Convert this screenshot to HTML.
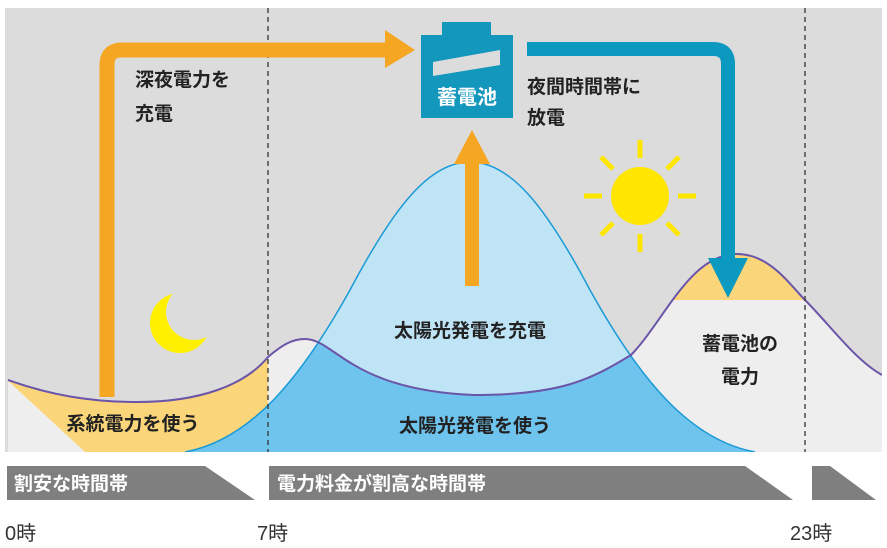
<!DOCTYPE html>
<html><head><meta charset="utf-8"><style>
body{margin:0;background:#fff;}
svg{display:block;font-family:"Liberation Sans","Noto Sans CJK JP",sans-serif;}
</style></head><body>
<svg width="887" height="548" viewBox="0 0 887 548" xmlns="http://www.w3.org/2000/svg">
<defs>
<clipPath id="under"><path d="M8,380 C50,395 90,402 137,402 C200,402 245,385 268,357 C282,345 292,339 305,339 C335,339 350,390 474,395 C560,395 590,380 631,355 C665,320 690,254 737,254 C770,254 790,285 805,300 C830,325 855,360 882,375 L882,452 L8,452 Z"/></clipPath>
<clipPath id="panel"><rect x="5" y="8" width="877" height="444"/></clipPath>
</defs>
<rect x="5" y="8" width="877" height="444" fill="#dcdcdc"/>
<g clip-path="url(#panel)">
<path d="M8,380 C50,395 90,402 137,402 C200,402 245,385 268,357 C282,345 292,339 305,339 C335,339 350,390 474,395 C560,395 590,380 631,355 C665,320 690,254 737,254 C770,254 790,285 805,300 C830,325 855,360 882,375 L882,452 L8,452 Z" fill="#eeeeee"/>
<g clip-path="url(#under)">
<polygon points="5,378 85,452 268,452 268,300 5,300" fill="#fbd57a"/>
<rect x="600" y="230" width="205" height="70" fill="#fbd57a"/>
</g>
<path d="M185,452 C250,440 300,380 350,290 C395,205 430,162 470,162 C510,162 545,205 590,290 C640,380 690,440 755,452 Z" fill="#bfe4f6"/>
<g clip-path="url(#under)">
<path d="M185,452 C250,440 300,380 350,290 C395,205 430,162 470,162 C510,162 545,205 590,290 C640,380 690,440 755,452 Z" fill="#6fc4ee"/>
</g>
<path d="M185,452 C250,440 300,380 350,290 C395,205 430,162 470,162 C510,162 545,205 590,290 C640,380 690,440 755,452" fill="none" stroke="#1a9ad6" stroke-width="1.5"/>
<path d="M8,380 C50,395 90,402 137,402 C200,402 245,385 268,357 C282,345 292,339 305,339 C335,339 350,390 474,395 C560,395 590,380 631,355 C665,320 690,254 737,254 C770,254 790,285 805,300 C830,325 855,360 882,375" fill="none" stroke="#6a55a8" stroke-width="2"/>
</g>
<line x1="268" y1="8" x2="268" y2="452" stroke="#333" stroke-width="1.3" stroke-dasharray="5,4"/>
<line x1="805" y1="8" x2="805" y2="452" stroke="#333" stroke-width="1.3" stroke-dasharray="5,4"/>
<path d="M107,397 L107,65 Q107,50 122,50 L390,50" fill="none" stroke="#f5a623" stroke-width="15"/>
<polygon points="385,30 415,50 385,68" fill="#f5a623"/>
<rect x="465" y="160" width="14" height="126" fill="#f5a623"/>
<polygon points="454,164 472,130 490,164" fill="#f5a623"/>
<rect x="421" y="35" width="92" height="83" fill="#1497bd"/>
<rect x="442" y="22" width="49" height="14" fill="#1497bd"/>
<polygon points="433,62 500,50 500,65 433,76" fill="#dcdcdc"/>
<text x="467" y="104" font-size="20" font-weight="bold" fill="#fff" text-anchor="middle">蓄電池</text>
<path d="M527,49 L713,49 Q728,49 728,64 L728,265" fill="none" stroke="#0b99c0" stroke-width="14"/>
<polygon points="708,258 748,258 728,298" fill="#0b99c0"/>
<g stroke="#ffe600" stroke-width="5">
<circle cx="640" cy="196" r="29" fill="#ffe600" stroke="none"/>
<line x1="640" y1="158" x2="640" y2="140"/><line x1="640" y1="234" x2="640" y2="252"/>
<line x1="602" y1="196" x2="584" y2="196"/><line x1="678" y1="196" x2="696" y2="196"/>
<line x1="613" y1="169" x2="601" y2="157"/><line x1="667" y1="169" x2="679" y2="157"/>
<line x1="613" y1="223" x2="601" y2="235"/><line x1="667" y1="223" x2="679" y2="235"/>
</g>
<circle cx="180" cy="323" r="30" fill="#fff000"/>
<circle cx="194" cy="312" r="28" fill="#dcdcdc"/>
<g font-size="19" font-weight="bold" fill="#222">
<text x="135" y="86">深夜電力を</text><text x="135" y="120">充電</text>
<text x="527" y="93">夜間時間帯に</text><text x="527" y="124">放電</text>
<text x="470" y="337" text-anchor="middle">太陽光発電を充電</text>
<text x="475" y="432" text-anchor="middle">太陽光発電を使う</text>
<text x="133" y="430" text-anchor="middle">系統電力を使う</text>
<text x="740" y="350" text-anchor="middle">蓄電池の</text>
<text x="740" y="383" text-anchor="middle">電力</text>
</g>
<polygon points="7,466 205,466 255,500 7,500" fill="#7f7f7f"/>
<polygon points="269,466 745,466 793,500 269,500" fill="#7f7f7f"/>
<polygon points="812,466 830,466 876,500 812,500" fill="#7f7f7f"/>
<g font-size="19" font-weight="bold" fill="#fff">
<text x="14" y="490">割安な時間帯</text>
<text x="277" y="490">電力料金が割高な時間帯</text>
</g>
<g font-size="20" fill="#333">
<text x="5" y="540">0時</text><text x="257" y="540">7時</text><text x="790" y="540">23時</text>
</g>
</svg>
</body></html>
